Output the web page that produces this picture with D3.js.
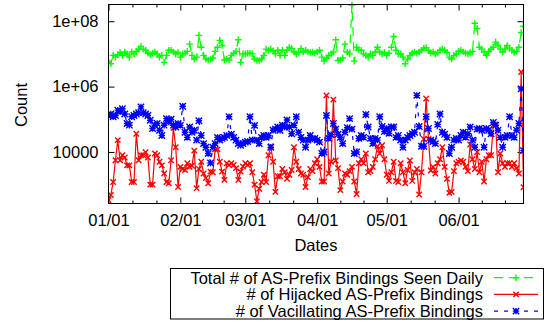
<!DOCTYPE html>
<html>
<head>
<meta charset="utf-8">
<script src="https://cdn.jsdelivr.net/npm/d3@7"></script>
<style>
  body { margin: 0; background: #fff; }
  svg { display: block; font-family: "Liberation Sans", Arial, Helvetica, sans-serif; }
</style>
</head>
<body>
<div id="chart"></div>
<script>
// one value per day, starting on startDate
const startDate = "2007/01/01";

const totalSeen = [
  6e6, 5e6, 9e6, 8e6, 9.5e6, 1.1e7, 9e6, 1.15e7, 1e7, 8e6,
  1.15e7, 1e7, 1.2e7, 1.4e7, 1.7e7, 1.4e7, 1.3e7, 1.05e7, 9.5e6, 1.05e7,
  1.15e7, 1e7, 8e6, 9e6, 5.5e6, 9e6, 1.3e7, 1.3e7, 1.15e7, 1e7,
  1.1e7, 8e6, 1e7, 1.05e7, 1.2e7, 2e7, 9e6, 7e6, 8e6, 3.7e7,
  1.6e7, 9e6, 7e6, 6.5e6, 7e6, 7.5e6, 1.2e7, 1.6e7, 2.6e7, 1.8e7,
  6.5e6, 7e6, 6.5e6, 9e6, 1.05e7, 1.2e7, 2.7e7, 5.5e6, 1e7, 1e7,
  1.05e7, 1.05e7, 1e7, 7e6, 6.3e6, 6.3e6, 7e6, 9e6, 1.4e7, 1.3e7,
  1.4e7, 1.25e7, 1e7, 1.3e7, 9e6, 1.3e7, 9e6, 1.3e7, 1.6e7, 1.45e7,
  1.15e7, 1e7, 1.1e7, 1.45e7, 1.15e7, 1.3e7, 1.15e7, 1.1e7, 1.15e7, 1.05e7,
  1.15e7, 1.3e7, 8e6, 6e6, 7.5e6, 9e6, 1e7, 1.15e7, 2.7e7, 6.3e6,
  6.5e6, 7.5e6, 2e7, 1.15e7, 1e7, 3.1e8, 6e6, 1.6e7, 1.3e7, 1.3e7,
  1e7, 9e6, 8e6, 1e7, 9e6, 1.15e7, 1.6e7, 1.15e7, 1e7, 1.1e7,
  9e6, 1.05e7, 1.6e7, 3.4e7, 1.3e7, 1e7, 1e7, 8e6, 5e6, 7e6,
  9e6, 1.05e7, 1.15e7, 1.05e7, 1.15e7, 1.3e7, 1.5e7, 1.55e7, 1.3e7, 1.05e7,
  1.15e7, 1e7, 1.1e7, 1.3e7, 1.4e7, 1.3e7, 1.1e7, 8e6, 7e6, 9e6,
  1e7, 1.2e7, 1.3e7, 1.15e7, 1.05e7, 1e7, 1.1e7, 1.2e7, 8.7e7, 6e7,
  1.6e7, 1.4e7, 1.15e7, 9e6, 1.2e7, 1.4e7, 1.6e7, 2.3e7, 1.8e7, 1.4e7,
  1.15e7, 1.4e7, 1.8e7, 1.5e7, 1.3e7, 1.1e7, 1.2e7, 1.6e7, 4.5e7, 7e7
];

const hijacked = [
  340, 480, 1200, 5600, 23000, 5600, 7900, 6800, 3900, 3900,
  1200, 1200, 36000, 5600, 7900, 7900, 9800, 6800, 1000, 1000,
  9000, 7900, 5000, 3900, 2200, 1200, 1100, 5600, 55000, 14000,
  850, 3500, 3000, 2800, 4500, 3500, 3800, 11000, 780, 3000,
  5000, 2200, 1600, 1100, 2500, 2400, 12000, 12000, 5000, 2500,
  1400, 4500, 4000, 4500, 4000, 3200, 1400, 2500, 3600, 4500,
  4000, 4500, 2400, 1000, 310, 750, 1200, 2000, 1200, 7900,
  15000, 5000, 600, 1800, 1800, 3000, 2400, 1500, 2000, 2800,
  14000, 5000, 3000, 2200, 2000, 850, 1700, 3000, 2600, 4500,
  6000, 3500, 1250, 1250, 540000, 2200, 5000, 400000, 5500, 3200,
  680, 1250, 2200, 2000, 2600, 3500, 1250, 520, 4500, 6000,
  4500, 9000, 2400, 2600, 3500, 6000, 15000, 9000, 16000, 6000,
  2000, 1300, 2400, 5000, 1300, 1200, 4500, 2400, 1100, 2800,
  5500, 1300, 2400, 3000, 500, 2400, 25000, 430000, 25000, 2700,
  3500, 2200, 4500, 6000, 14000, 3500, 1500, 560, 600, 2600,
  4500, 5000, 5500, 5000, 3500, 2600, 17000, 6000, 3000, 10000,
  2400, 5000, 1250, 6000, 7900, 7900, 66000, 70000, 2400, 9000,
  4500, 3500, 4500, 4500, 3500, 4500, 3200, 2200, 2800000, 830
];

const vacillating = [
  1.3e5, 1.45e5, 1.2e5, 1.3e5, 1.9e5, 1.7e5, 2.1e5, 1.45e5, 7.4e4, 6.6e4,
  1.2e5, 1.3e5, 1.45e5, 1.6e5, 2.4e5, 1.6e5, 1.45e5, 1.3e5, 9.3e4, 5.2e4,
  6.6e4, 7.4e4, 4.6e4, 3.2e4, 6.6e4, 1.05e5, 8.3e4, 1e5, 6.6e4, 5.8e4,
  7.4e4, 6.5e4, 2.5e5, 4e4, 2.8e4, 5.8e4, 4e4, 4.6e4, 2.3e4, 9e4,
  3.2e4, 1.8e4, 1.4e4, 9e3, 4.6e3, 1.4e4, 1.8e4, 2.8e4, 2.3e4, 2.6e4,
  2.8e4, 3.2e4, 1.2e5, 3.5e4, 2.8e4, 2.3e4, 1.8e4, 1.6e4, 1.8e4, 2e4,
  2.1e4, 1.2e5, 2.3e4, 6.5e4, 2.3e4, 1.8e4, 2.8e4, 3.2e4, 2.8e4, 3.2e4,
  1.4e4, 4.6e4, 5e4, 5.8e4, 4.6e4, 6.6e4, 5.8e4, 9.5e4, 5.8e4, 3.6e4,
  6.5e4, 1.2e5, 4e4, 2.8e4, 2.3e4, 1.4e4, 2.3e4, 3.2e4, 2.5e4, 2.6e4,
  2.3e4, 2e4, 9e3, 1e4, 1.3e5, 2.6e4, 3.4e4, 7.4e4, 5e4, 3.5e4,
  2.8e4, 1.8e4, 4e4, 5.5e4, 1.05e5, 5e4, 9e3, 1e4, 2.6e4, 3.2e4,
  2.8e4, 1.4e5, 5.8e4, 2.6e4, 1.8e4, 2.6e4, 2.3e4, 1.2e5, 6e4, 4.2e4,
  5.2e4, 3.7e4, 5.8e4, 5.8e4, 2.8e4, 3.2e4, 2.3e4, 1.4e4, 2.3e4, 2.8e4,
  3.2e4, 3.6e4, 4e4, 5.4e5, 6e4, 1.5e4, 1.5e4, 1.2e5, 5.2e4, 2.3e4,
  2.1e4, 1.8e4, 7e4, 1.45e5, 4e4, 3.5e4, 2.8e4, 9e3, 1.4e4, 2.3e4,
  2.6e4, 2.3e4, 3.2e4, 4e4, 2.8e4, 3.6e4, 5.8e4, 2.3e4, 1.4e4, 5e4,
  5.2e4, 4.6e4, 1.4e4, 5.2e4, 4.6e4, 3.6e4, 8e4, 6.6e4, 4.6e4, 2.8e4,
  1.4e4, 2.8e4, 3.2e4, 1.2e5, 3.2e4, 2.8e4, 4.6e4, 7.4e4, 8.5e5, 1.1e4
];

const seriesNames = [
  "Total # of AS-Prefix Bindings Seen Daily",
  "# of Hijacked AS-Prefix Bindings",
  "# of Vacillating AS-Prefix Bindings"
];
const xTickLabels = ["01/01", "02/01", "03/01", "04/01", "05/01", "06/01"];
const yTickValues = [1e4, 1e6, 1e8];
const yTickLabels = ["10000", "1e+06", "1e+08"];
const yDomain = [265, 3.25e8];

const W = 544, H = 322;
const plot = {left: 108.5, right: 523.5, top: 4.5, bottom: 203.5};
const fontSize = 16.5;

const parse = d3.utcParse("%Y/%m/%d");
const start = parse(startDate);
const dates = totalSeen.map((v, i) => d3.utcDay.offset(start, i));

const x = d3.scaleUtc()
  .domain([dates[0], dates[dates.length - 1]])
  .range([plot.left, plot.right]);
const y = d3.scaleLog()
  .domain(yDomain)
  .range([plot.bottom, plot.top]);

const svg = d3.select("#chart").append("svg")
  .attr("width", W).attr("height", H);
svg.append("rect").attr("width", W).attr("height", H).attr("fill", "#fff");

// ticks: labelled month starts, two minor ticks between them
const year = startDate.slice(0, 5);
const xMajor = xTickLabels.map(l => parse(year + l));
const xMinor = [];
xMajor.forEach(m => {
  const n = d3.utcMonth.offset(m, 1);
  [1, 2].forEach(k => {
    const t = new Date(+m + (n - m) * k / 3);
    if (t <= x.domain()[1]) xMinor.push(t);
  });
});

function styleAxis(g) {
  g.select(".domain").remove();
  g.attr("font-family", null).attr("font-size", fontSize);
  g.selectAll(".tick line").attr("stroke", "#000");
  g.selectAll(".tick text").attr("fill", "#000");
}

svg.append("g").attr("transform", `translate(0,${plot.bottom})`)
  .call(d3.axisBottom(x).tickValues(xMajor).tickFormat((d, i) => xTickLabels[i])
    .tickSize(-6).tickPadding(11))
  .call(styleAxis);
svg.append("g").attr("transform", `translate(0,${plot.bottom})`)
  .call(d3.axisBottom(x).tickValues(xMinor).tickFormat("").tickSize(-3))
  .call(styleAxis);
svg.append("g").attr("transform", `translate(0,${plot.top})`)
  .call(d3.axisTop(x).tickValues(xMajor).tickFormat("").tickSize(-6))
  .call(styleAxis);
svg.append("g").attr("transform", `translate(0,${plot.top})`)
  .call(d3.axisTop(x).tickValues(xMinor).tickFormat("").tickSize(-3))
  .call(styleAxis);
svg.append("g").attr("transform", `translate(${plot.left},0)`)
  .call(d3.axisLeft(y).tickValues(yTickValues).tickFormat((d, i) => yTickLabels[i])
    .tickSize(-6).tickPadding(10))
  .call(styleAxis);
svg.append("g").attr("transform", `translate(${plot.right},0)`)
  .call(d3.axisRight(y).tickValues(yTickValues).tickFormat("").tickSize(-6))
  .call(styleAxis);

// axis titles
svg.append("text")
  .attr("transform", `translate(20.5,105) rotate(-90)`)
  .attr("text-anchor", "middle").attr("dominant-baseline", "central")
  .attr("font-size", fontSize).text("Count");
svg.append("text")
  .attr("x", (plot.left + plot.right) / 2).attr("y", 251)
  .attr("text-anchor", "middle")
  .attr("font-size", fontSize).text("Dates");

// markers
const markers = {
  plus: s => `M${-s},0H${s}M0,${-s}V${s}`,
  cross: s => `M${-s},${-s}L${s},${s}M${-s},${s}L${s},${-s}`,
  star: s => `M${-s},0H${s}M0,${-s}V${s}M${-s},${-s}L${s},${s}M${-s},${s}L${s},${-s}`
};

const series = [
  {name: seriesNames[0], values: totalSeen, color: "#00ff00", dash: "9,6", marker: "plus", size: 3.3},
  {name: seriesNames[1], values: hijacked, color: "#ff0000", dash: null, marker: "cross", size: 2.7},
  {name: seriesNames[2], values: vacillating, color: "#0000ff", dash: "4,6", marker: "star", size: 3.2}
];

svg.append("clipPath").attr("id", "clip").append("rect")
  .attr("x", plot.left).attr("y", plot.top - 4)
  .attr("width", plot.right - plot.left).attr("height", plot.bottom - plot.top + 4);

const line = d3.line().x(d => x(d.date)).y(d => y(d.value));
const plotArea = svg.append("g").attr("clip-path", "url(#clip)");

series.forEach(s => {
  const pts = s.values.map((v, i) => ({date: dates[i], value: v}));
  const g = plotArea.append("g");
  g.append("path")
    .attr("d", line(pts))
    .attr("fill", "none")
    .attr("stroke", s.color)
    .attr("stroke-width", 1.2)
    .attr("stroke-dasharray", s.dash);
  g.selectAll("path.pt").data(pts).enter().append("path")
    .attr("class", "pt")
    .attr("transform", d => `translate(${x(d.date)},${y(d.value)})`)
    .attr("d", markers[s.marker](s.size))
    .attr("fill", "none")
    .attr("stroke", s.color)
    .attr("stroke-width", 1.4);
});

// frame
svg.append("rect")
  .attr("x", plot.left).attr("y", plot.top)
  .attr("width", plot.right - plot.left).attr("height", plot.bottom - plot.top)
  .attr("fill", "none").attr("stroke", "#000").attr("stroke-width", 1);

// legend
const legend = svg.append("g");
legend.append("rect")
  .attr("x", 170.5).attr("y", 268.5).attr("width", 373).attr("height", 50.5)
  .attr("fill", "none").attr("stroke", "#000").attr("stroke-width", 1);
series.forEach((s, i) => {
  const cy = 277.7 + i * 16.7;
  legend.append("text")
    .attr("x", 483).attr("y", cy + 5.8)
    .attr("text-anchor", "end").attr("font-size", fontSize)
    .text(s.name);
  legend.append("line")
    .attr("x1", 494).attr("x2", 538).attr("y1", cy).attr("y2", cy)
    .attr("stroke", s.color).attr("stroke-width", 1.2)
    .attr("stroke-dasharray", s.dash);
  legend.append("path")
    .attr("transform", `translate(516,${cy})`)
    .attr("d", markers[s.marker](s.size))
    .attr("fill", "none").attr("stroke", s.color).attr("stroke-width", 1.4);
});
</script>
</body>
</html>
